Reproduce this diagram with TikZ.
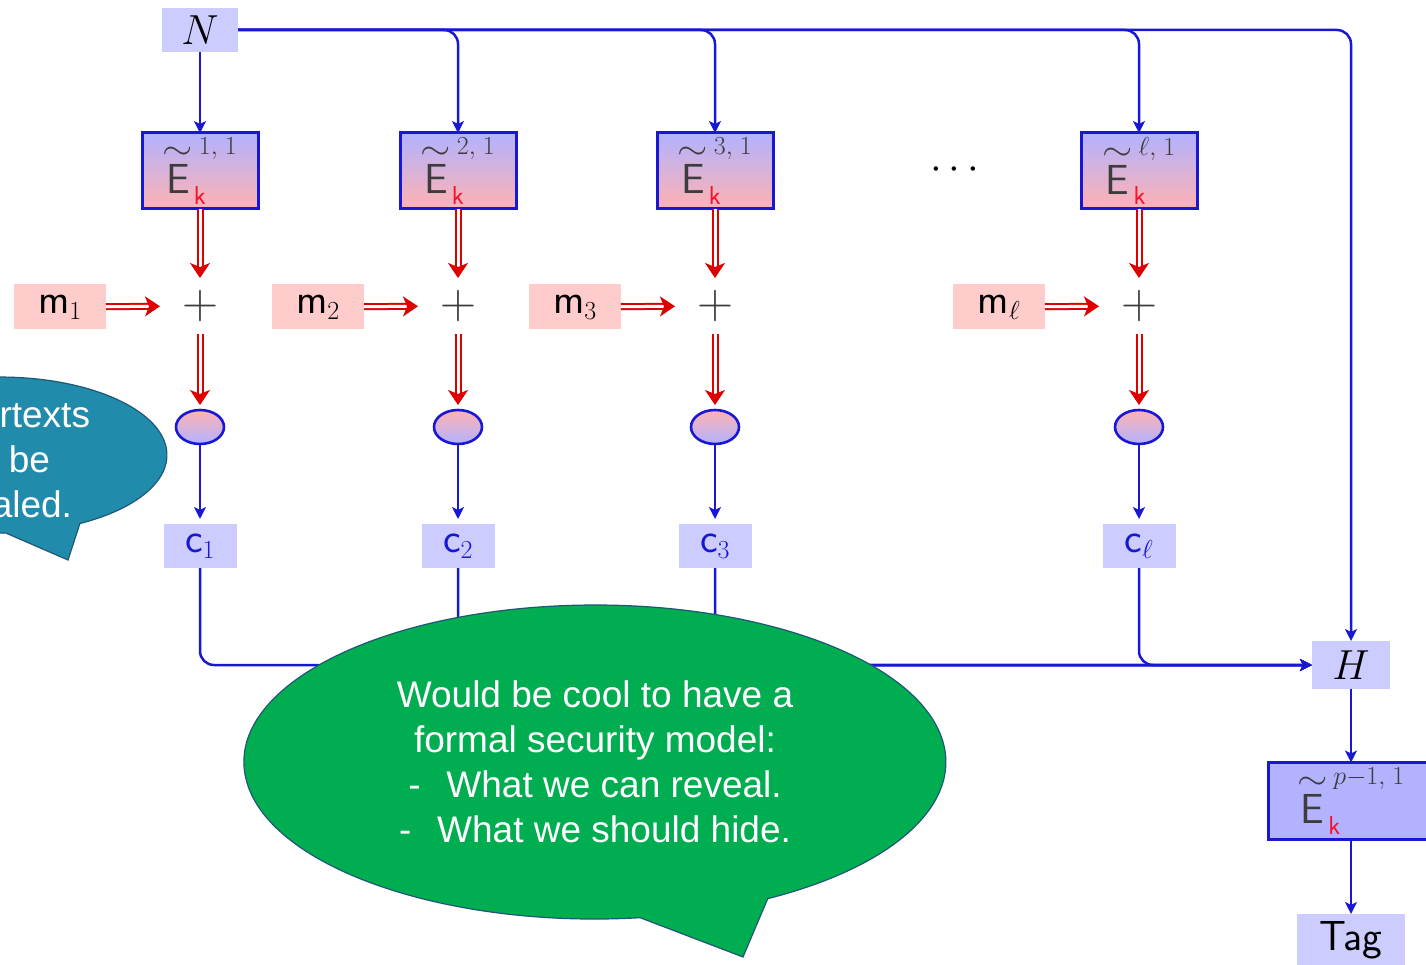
\RequirePackage{fix-cm}
\documentclass[tikz,border=0pt]{standalone}
\usepackage{amsmath}
\usepackage{fontspec}
\usetikzlibrary{arrows.meta,shapes.geometric}
\newfontfamily\calloutfont{Liberation Sans}
\DeclareMathSizes{42}{42}{26}{21}
\definecolor{flowblue}{RGB}{24,24,212}
\definecolor{flowred}{RGB}{222,0,0}
\definecolor{keyred}{RGB}{245,20,40}
\definecolor{boxblue}{RGB}{204,204,255}
\definecolor{boxpink}{RGB}{255,204,204}
\definecolor{keyblue}{RGB}{178,178,255}
\definecolor{keypink}{RGB}{255,178,178}
\definecolor{textgray}{RGB}{60,60,60}
\definecolor{tealbubble}{RGB}{33,139,172}
\definecolor{greenbubble}{RGB}{0,173,80}
\definecolor{bubbleedge}{RGB}{30,88,118}
% keyed block cipher label: tilde E with index pair and red key
\newcommand{\idx}[2]{\hspace{5pt}#1,\hspace{7pt}#2}
\newcommand{\blockE}[1]{${\overset{\scalebox{1.5}[1.3]{$\scriptstyle\sim$}}{\mathsf{E}}\kern1pt}^{#1}_{\mathsf{\color{keyred}k}}$}

\begin{document}
\begin{tikzpicture}[x=1pt,y=-1pt,
  every node/.style={inner sep=0pt, outer sep=0pt},
  big/.style={font=\fontsize{42}{46}\selectfont},
  lblbox/.style={big, fill=boxblue},
  msgbox/.style={big, fill=boxpink, minimum width=92pt, minimum height=45pt},
  keybox/.style={big, text=textgray, draw=flowblue, line width=3pt,
    top color=keyblue, bottom color=keypink, minimum width=116pt, minimum height=76pt},
  xorpt/.style={font=\fontsize{50}{54}\selectfont, text=textgray, minimum width=80pt, minimum height=56pt},
  encpt/.style={ellipse, draw=flowblue, line width=2.6pt, top color=keypink,
    bottom color=keyblue, minimum width=48pt, minimum height=34pt},
  flow/.style={draw=flowblue, line width=2.5pt, -{Stealth[length=12pt,width=12pt,inset=3pt]}},
  roundflow/.style={flow, rounded corners=14pt},
  dflow/.style={draw=flowred, line width=2pt, double=white, double distance=3pt,
    -{Stealth[length=15pt,width=20pt,inset=4pt]}},
  callout/.style={font=\calloutfont\fontsize{37}{45}\selectfont, text=white},
]
\useasboundingbox (0,0) rectangle (1426,965);

% nonce, hash, final block and tag
\node[lblbox, minimum width=76pt, minimum height=44pt] (N) at (200,30) {$N$};
\node[lblbox, minimum width=78pt, minimum height=48pt] (H) at (1351,665) {$H$};
\node[big, text=textgray, draw=flowblue, line width=3pt, fill=keyblue,
  minimum width=166pt, minimum height=77pt] (EP) at (1351,801) {\blockE{\idx{p-1}{1}}};
\node[lblbox, minimum width=108pt, minimum height=52pt] (Tag) at (1351,940) {\sffamily Tag};
\node[big] (dots) at (958,170) {$\cdots$};

% one column per message block
\foreach \i/\x/\s/\t/\j in {1/200/1/1/1, 2/458/2/1/2, 3/715/3/1/3, l/1139/\ell/1/\ell}{
  \node[keybox] (E\i) at (\x,171) {\blockE{\idx{\s}{\t}}};
  \node[xorpt] (X\i) at (\x,306) {$+$};
  \node[msgbox] (M\i) at (\x-140,307) {$\mathsf{m}_{\j}$};
  \node[encpt] (P\i) at (\x,427) {};
  \node[lblbox, text=flowblue, minimum width=73pt, minimum height=44pt] (C\i) at (\x,546) {$\mathsf{c}_{\j}$};
  \draw[dflow] (E\i) -- (X\i);
  \draw[dflow] (M\i) -- (X\i);
  \draw[dflow, shorten >=5pt] (X\i) -- (P\i);
  \draw[flow, shorten >=5pt] (P\i) -- (C\i);
  \draw[roundflow] (C\i) |- (H);
}

% nonce fan-out
\draw[flow] (N) -- (E1);
\foreach \i in {2,3,l} \draw[roundflow] (N) -| (E\i);
\draw[roundflow] (N) -| (H);
\draw[flow] (H) -- (EP);
\draw[flow] (EP) -- (Tag);

% left speech bubble
\filldraw[fill=tealbubble, draw=bubbleedge, line width=1.2pt]
  (68,560) -- (5.8,533) arc[start angle=88, end angle=421.4, x radius=167, y radius=78] -- cycle;
\node[callout, anchor=base east] (t1) at (90,427) {rtexts};
\node[callout, anchor=base east] (t2) at (50,472) {be};
\node[callout, anchor=base east] (t3) at (72,517) {aled.};

% central speech bubble
\filldraw[fill=greenbubble, draw=bubbleedge, line width=1.2pt]
  (743,957) -- (640.1,917.7) arc[start angle=82.6, end angle=420.5, x radius=351, y radius=157] -- cycle;
\node[callout, align=center] (note) at (595,762)
  {Would be cool to have a\\formal security model:\\-\hspace{0.7em}What we can reveal.\\-\hspace{0.7em}What we should hide.};
\end{tikzpicture}
\end{document}
